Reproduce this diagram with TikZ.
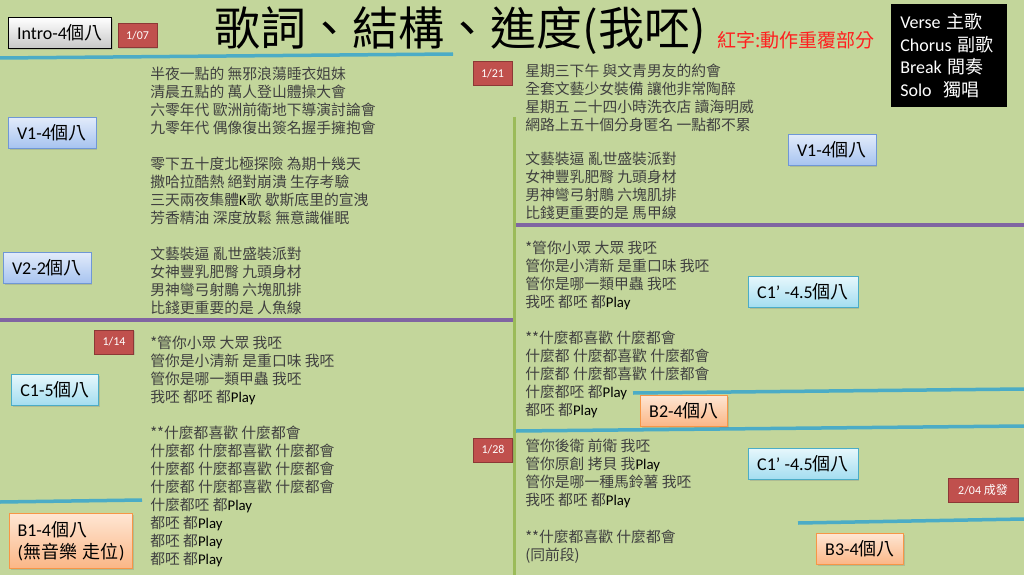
\documentclass[tikz,border=0pt]{standalone}
\usepackage{fontspec}
\setmainfont{Noto Sans CJK TC}
\newfontfamily\lat{Carlito}
\usetikzlibrary{shadows}
\definecolor{bgcolor}{HTML}{C3D69B}
\definecolor{lyricgray}{HTML}{404040}
\definecolor{notered}{HTML}{FF2020}
\definecolor{tagred}{HTML}{C0504D}
\definecolor{tagdark}{HTML}{8C3836}
\definecolor{sepblue}{HTML}{4BACC6}
\definecolor{seppurple}{HTML}{8064A2}
\definecolor{sepgreen}{HTML}{9BBB59}
\definecolor{versetop}{HTML}{E2EBFA}
\definecolor{versebot}{HTML}{A6C3F0}
\definecolor{versedraw}{HTML}{6F97D6}
\definecolor{chorustop}{HTML}{E6F7FC}
\definecolor{chorusbot}{HTML}{A3DDF0}
\definecolor{chorusdraw}{HTML}{4BACC6}
\definecolor{breaktop}{HTML}{FEE6D3}
\definecolor{breakbot}{HTML}{FBB686}
\definecolor{breakdraw}{HTML}{F79646}
\newcommand{\play}{{\lat\color{black}Play}}

\begin{document}
\begin{tikzpicture}[x=1pt,y=-1pt,semithick,
                    lyric/.style={anchor=north west,inner sep=0pt,align=left,
                      text=lyricgray,font=\fontsize{14.8}{18}\selectfont}]
  \tikzstyle{part}=[draw,minimum height=31pt,inner xsep=9pt,inner ysep=2pt,
    font=\fontsize{18}{22}\selectfont,
    drop shadow={shadow xshift=1.5pt,shadow yshift=-1.5pt,opacity=0.3}]
  \tikzstyle{intro}=[part,draw=black,line width=1pt,top color=white,bottom color=black!22]
  \tikzstyle{verse}=[part,draw=versedraw,top color=versetop,bottom color=versebot]
  \tikzstyle{chorus}=[part,draw=chorusdraw,top color=chorustop,bottom color=chorusbot]
  \tikzstyle{breakbox}=[part,draw=breakdraw,top color=breaktop,bottom color=breakbot]
  \tikzstyle{datetag}=[draw=tagdark,fill=tagred,text=white,line width=1pt,
    minimum width=39pt,minimum height=24pt,inner sep=0pt,
    font=\lat\fontsize{12}{14}\selectfont,
    drop shadow={shadow xshift=1pt,shadow yshift=-1pt,opacity=0.3}]
  \tikzstyle{sep}=[line width=3.5pt]

  \useasboundingbox (0,0) rectangle (1024,575);
  \fill[bgcolor] (0,0) rectangle (1024,575);

  % separators
  \draw[sep,sepgreen,line width=3pt] (514,117) -- (514,575);
  \draw[sep,sepblue]   (0,58) -- (453,54);
  \draw[sep,seppurple] (0,320) -- (513,320);
  \draw[sep,sepblue]   (0,502) -- (142,500);
  \draw[sep,seppurple] (516,225) -- (1024,225);
  \draw[sep,sepblue]   (633,393) -- (1024,389);
  \draw[sep,sepblue]   (516,431) -- (1024,426);
  \draw[sep,sepblue]   (798,523) -- (1024,519);

  % title and legend
  \node (title) at (460,31) {\fontsize{46}{50}\selectfont 歌詞、結構、進度(我呸)};
  \node[anchor=west,inner sep=0pt,text=notered] (note) at (717,40)
       {\fontsize{19}{22}\selectfont 紅字:動作重覆部分};
  \node[fill=black,text=white,anchor=north west,minimum width=116pt,minimum height=103pt,
        inner xsep=9pt,text width=98pt,align=left,font=\fontsize{18}{22.5}\selectfont]
        (legend) at (891,4)
       {{\lat Verse} 主歌\\{\lat Chorus} 副歌\\{\lat Break} 間奏\\{\lat Solo}\hspace{12pt}獨唱};

  % parts
  \node[intro]    (intro) at (60,33)   {{\lat Intro-4}個八};
  \node[verse]    (v1)    at (52,133)  {{\lat V1-4}個八};
  \node[verse]    (v2)    at (47,268)  {{\lat V2-2}個八};
  \node[chorus]   (c1)    at (55,390)  {{\lat C1-5}個八};
  \node[breakbox,align=left,minimum height=55pt,inner xsep=8pt] (b1) at (71,541)
                          {{\lat B1-4}個八\\{\lat (}無音樂\hspace{6pt}走位{\lat )}};
  \node[verse]    (v1r)   at (832,150) {{\lat V1-4}個八};
  \node[chorus]   (c1ra)  at (803,292) {{\lat C1’ -4.5}個八};
  \node[breakbox] (b2)    at (684,411) {{\lat B2-4}個八};
  \node[chorus]   (c1rb)  at (803,464) {{\lat C1’ -4.5}個八};
  \node[breakbox] (b3)    at (860,549) {{\lat B3-4}個八};

  % dates
  \node[datetag] (d107) at (137.5,36) {1/07};
  \node[datetag] (d121) at (492.5,73.5) {1/21};
  \node[datetag] (d114) at (114,342) {1/14};
  \node[datetag] (d128) at (493,450) {1/28};
  \node[datetag,minimum width=70pt] (d204) at (983,490) {2/04 {\normalfont\fontsize{12}{14}\selectfont 成發}};

  % lyrics, left
  \node[lyric] (ly1) at (150,67) {半夜一點的 無邪浪蕩睡衣姐妹\\清晨五點的 萬人登山體操大會\\
    六零年代 歐洲前衛地下導演討論會\\九零年代 偶像復出簽名握手擁抱會};
  \node[lyric] (ly2) at (150,157) {零下五十度北極探險 為期十幾天\\撒哈拉酷熱 絕對崩潰 生存考驗\\
    三天兩夜集體{\lat\color{black}K}歌 歇斯底里的宣洩\\芳香精油 深度放鬆 無意識催眠};
  \node[lyric] (ly3) at (150,247) {文藝裝逼 亂世盛裝派對\\女神豐乳肥臀 九頭身材\\
    男神彎弓射鵰 六塊肌排\\比錢更重要的是 人魚線};
  \node[lyric] (ly4) at (150,336) {*管你小眾 大眾 我呸\\管你是小清新 是重口味 我呸\\
    管你是哪一類甲蟲 我呸\\我呸 都呸 都\play};
  \node[lyric] (ly5) at (150,426) {**什麼都喜歡 什麼都會\\什麼都 什麼都喜歡 什麼都會\\
    什麼都 什麼都喜歡 什麼都會\\什麼都 什麼都喜歡 什麼都會\\什麼都呸 都\play\\
    都呸 都\play\\都呸 都\play\\都呸 都\play};

  % lyrics, right
  \node[lyric] (ry1) at (525,64) {星期三下午 與文青男友的約會\\全套文藝少女裝備 讓他非常陶醉\\
    星期五 二十四小時洗衣店 讀海明威\\網路上五十個分身匿名 一點都不累};
  \node[lyric] (ry2) at (525,152) {文藝裝逼 亂世盛裝派對\\女神豐乳肥臀 九頭身材\\
    男神彎弓射鵰 六塊肌排\\比錢更重要的是 馬甲線};
  \node[lyric] (ry3) at (525,241) {*管你小眾 大眾 我呸\\管你是小清新 是重口味 我呸\\
    管你是哪一類甲蟲 我呸\\我呸 都呸 都\play};
  \node[lyric] (ry4) at (525,331) {**什麼都喜歡 什麼都會\\什麼都 什麼都喜歡 什麼都會\\
    什麼都 什麼都喜歡 什麼都會\\什麼都呸 都\play\\都呸 都\play};
  \node[lyric] (ry5) at (525,439) {管你後衛 前衛 我呸\\管你原創 拷貝 我\play\\
    管你是哪一種馬鈴薯 我呸\\我呸 都呸 都\play};
  \node[lyric] (ry6) at (525,530) {**什麼都喜歡 什麼都會\\(同前段)};
\end{tikzpicture}
\end{document}
